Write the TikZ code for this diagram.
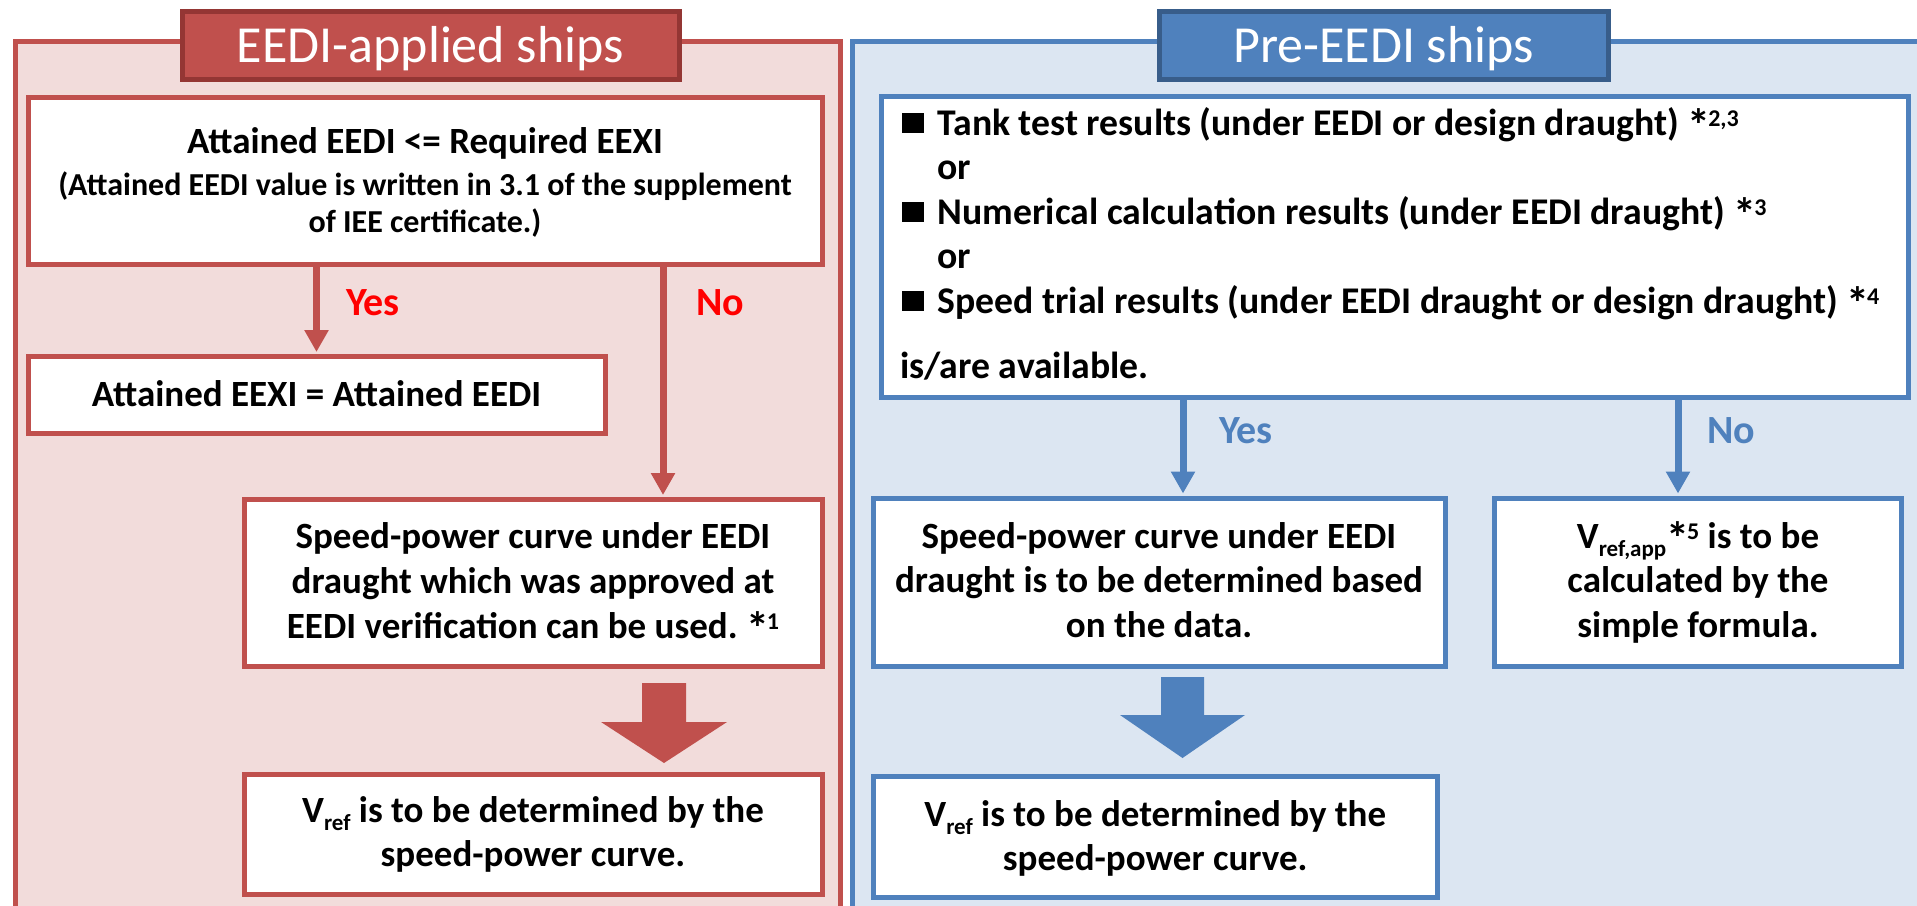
\documentclass[tikz,border=0pt]{standalone}
\usepackage{fontspec}
\setmainfont{Carlito}
\usetikzlibrary{arrows.meta}
\definecolor{redline}{HTML}{C0504D}
\definecolor{redfill}{HTML}{F2DCDB}
\definecolor{redhead}{HTML}{943634}
\definecolor{blueline}{HTML}{4F81BD}
\definecolor{bluefill}{HTML}{DCE6F2}
\definecolor{bluehead}{HTML}{385D8A}
\definecolor{yesred}{HTML}{FF0000}
% footnote marks (a larger asterisk plus raised digits) and lowered indices
\newcommand\supx[1]{\raisebox{9pt}{\fontsize{24}{24}\selectfont #1}}
\newcommand\fmark[1]{\raisebox{-6pt}{\fontsize{46}{46}\selectfont *}\kern-2pt\supx{#1}}
\newcommand\subx[1]{\raisebox{-8pt}{\fontsize{23}{23}\selectfont #1}}
\frenchspacing

\begin{document}
\begin{tikzpicture}[x=1pt,y=-1pt,
  panel/.style={line width=5pt},
  box/.style={rectangle, fill=white, line width=5pt, inner sep=0pt},
  headbox/.style={rectangle, line width=5pt, inner sep=0pt},
  headtxt/.style={anchor=base, inner sep=0pt, text=white, font=\fontsize{52}{52}\selectfont},
  txt/.style={anchor=base, inner sep=0pt, font=\bfseries\fontsize{37}{44.5}\selectfont},
  flow/.style={line width=7pt, -{Triangle[width=23pt,length=22pt]}, shorten >=2pt},
  lbl/.style={anchor=base west, inner sep=0pt, font=\bfseries\fontsize{40}{40}\selectfont}
]
\useasboundingbox (0,0) rectangle (1917,905);
\fill[white] (0,0) rectangle (1917,905);

% the two panels, running past the lower edge
\begin{scope}
\clip (0,0) rectangle (1917,905);
\draw[panel, draw=redline, fill=redfill] (15.5,41.5) rectangle (840,960);
\draw[panel, draw=blueline, fill=bluefill] (852.5,41.5) rectangle (1960,960);
\end{scope}

% panel titles
\node[headbox, draw=redhead, fill=redline, minimum width=497pt, minimum height=67.8pt] (hL) at (430.5,45.6) {};
\node[headtxt] (hLt) at (430.5,62) {EEDI-applied ships};
\node[headbox, draw=bluehead, fill=blueline, minimum width=449pt, minimum height=67.8pt] (hR) at (1383.5,45.6) {};
\node[headtxt] (hRt) at (1383.5,62) {Pre-EEDI ships};

% ---------- EEDI-applied ships ----------
\node[box, draw=redline, minimum width=794pt, minimum height=167pt] (A1) at (425,180.5) {};
\node[box, draw=redline, minimum width=577pt, minimum height=77pt] (A2) at (316.5,395) {};
\node[box, draw=redline, minimum width=578pt, minimum height=166.5pt] (A3) at (533,582.75) {};
\node[box, draw=redline, minimum width=578pt, minimum height=120.5pt] (A4) at (533,834.25) {};

\node[anchor=base, inner sep=0pt, font=\bfseries\fontsize{32}{37.5}\selectfont] (A1t) at (425,153) {%
  \begin{tabular}[t]{@{}c@{}}
  {\fontsize{37}{37}\selectfont Attained EEDI <= Required EEXI}\\[4.5pt]
  (Attained EEDI value is written in 3.1 of the supplement\\
  of IEE certificate.)
  \end{tabular}};
\node[txt] (A2t) at (316.5,406) {Attained EEXI = Attained EEDI};
\node[txt, font=\bfseries\fontsize{37}{45}\selectfont] (A3t) at (533,548) {%
  \begin{tabular}[t]{@{}c@{}}
  Speed-power curve under EEDI\\
  draught which was approved at\\
  EEDI verification can be used. \fmark{1}
  \end{tabular}};
\node[txt] (A4t) at (533,822) {%
  \begin{tabular}[t]{@{}c@{}}
  V\subx{ref} is to be determined by the\\
  speed-power curve.
  \end{tabular}};

\coordinate (noL) at (663,0);
\draw[flow, redline] (A1.south -| A2.north) -- (A2.north);
\draw[flow, redline] (A1.south -| noL) -- (A3.north -| noL);
\node[lbl, text=yesred] (yesL) at (346,315) {Yes};
\node[lbl, text=yesred] (noLt) at (696,315) {No};

% wide arrow towards the result
\fill[redline] (642,683) -- (686,683) -- (686,722) -- (727,722) -- (664,763)
  -- (601,722) -- (642,722) -- cycle;

% ---------- Pre-EEDI ships ----------
\node[box, draw=blueline, minimum width=1027pt, minimum height=301pt] (B1) at (1394.5,246.5) {};
\node[box, draw=blueline, minimum width=572pt, minimum height=168pt] (B2) at (1159,582) {};
\node[box, draw=blueline, minimum width=407pt, minimum height=168pt] (B3) at (1698,582) {};
\node[box, draw=blueline, minimum width=564.5pt, minimum height=121pt] (B4) at (1155.25,836.5) {};

\node[txt, anchor=base west, font=\bfseries\fontsize{37.7}{44.5}\selectfont] (B1t) at (900,135) {%
  \begin{tabular}[t]{@{}l@{}}
  \hspace{2pt}\rule[2pt]{22pt}{20pt}\hspace{13.5pt}Tank test results (under EEDI or design draught) \fmark{2,3}\\
  \hspace{37.5pt}or\\
  \hspace{2pt}\rule[2pt]{22pt}{20pt}\hspace{13.5pt}Numerical calculation results (under EEDI draught) \fmark{3}\\
  \hspace{37.5pt}or\\
  \hspace{2pt}\rule[2pt]{22pt}{20pt}\hspace{13.5pt}Speed trial results (under EEDI draught or design draught) \fmark{4}\\[20.5pt]
  is/are available.
  \end{tabular}};
\node[txt] (B2t) at (1159,548) {%
  \begin{tabular}[t]{@{}c@{}}
  Speed-power curve under EEDI\\
  draught is to be determined based\\
  on the data.
  \end{tabular}};
\node[txt] (B3t) at (1698,548) {%
  \begin{tabular}[t]{@{}c@{}}
  V\subx{ref,app}\fmark{5} is to be\\
  calculated by the\\
  simple formula.
  \end{tabular}};
\node[txt] (B4t) at (1155.25,826) {%
  \begin{tabular}[t]{@{}c@{}}
  V\subx{ref} is to be determined by the\\
  speed-power curve.
  \end{tabular}};

\coordinate (yesR) at (1183,0);
\coordinate (noR) at (1678,0);
\draw[flow, blueline] (B1.south -| yesR) -- (B2.north -| yesR);
\draw[flow, blueline] (B1.south -| noR) -- (B3.north -| noR);
\node[lbl, text=blueline] (yesRt) at (1219,443) {Yes};
\node[lbl, text=blueline] (noRt) at (1707,443) {No};

\fill[blueline] (1161,677) -- (1204,677) -- (1204,715) -- (1245,715) -- (1182.5,758)
  -- (1120,715) -- (1161,715) -- cycle;
\end{tikzpicture}
\end{document}
